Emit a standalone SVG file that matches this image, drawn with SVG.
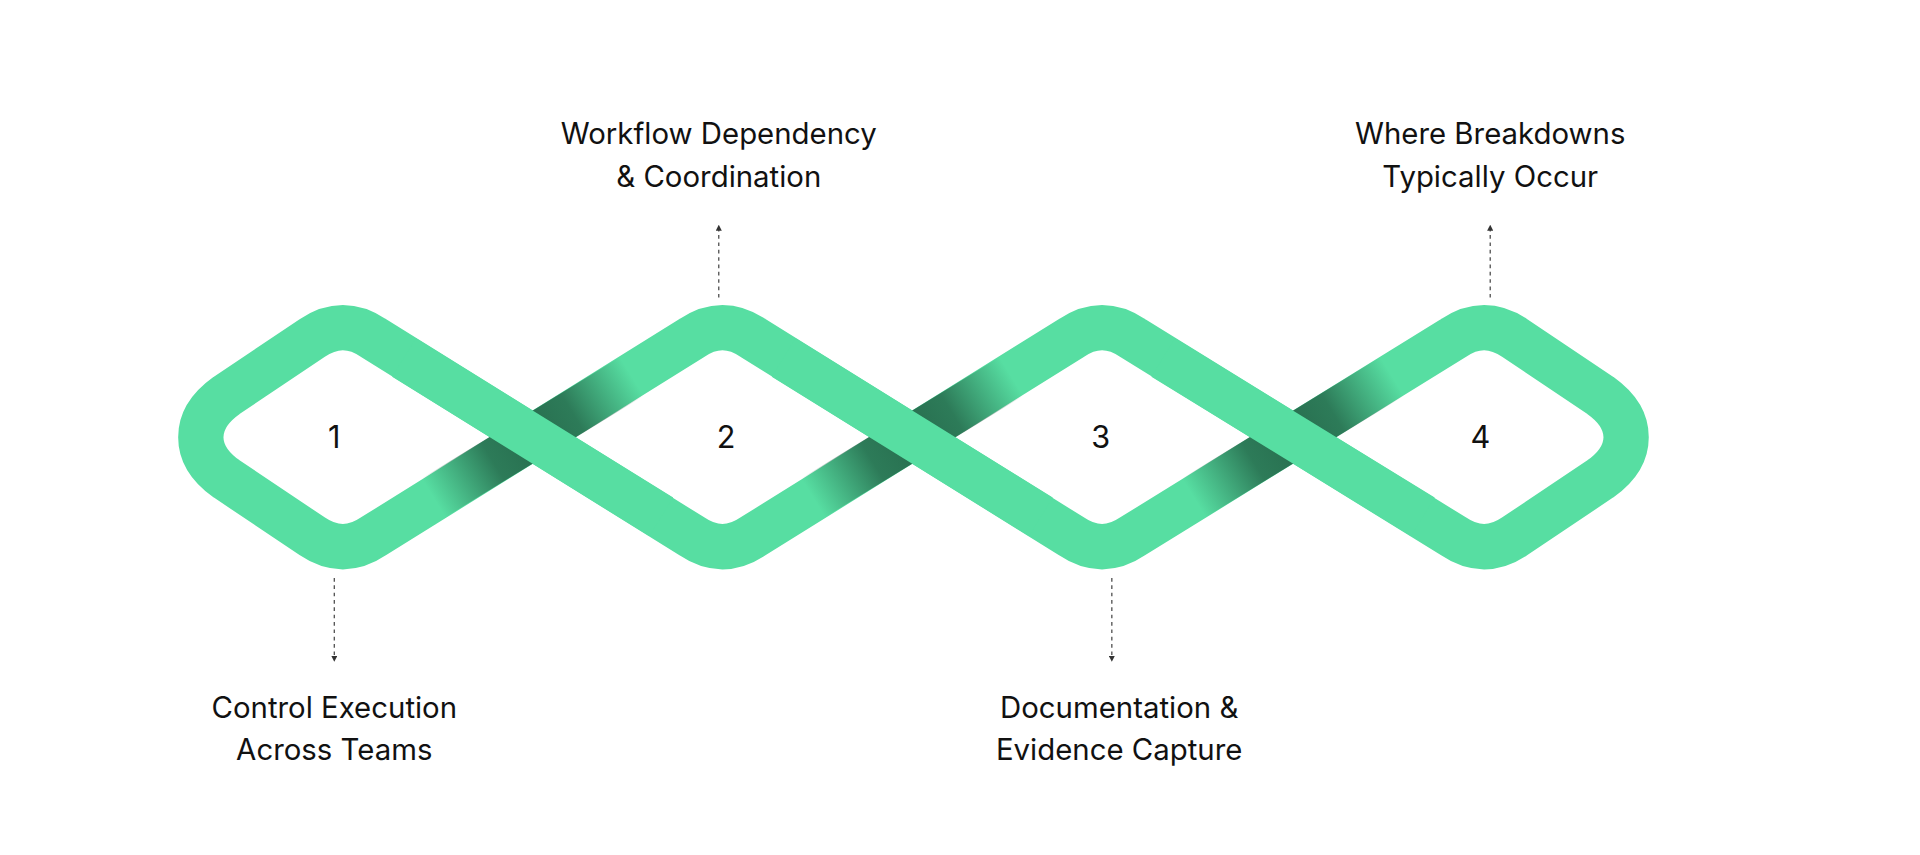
<svg xmlns="http://www.w3.org/2000/svg" width="1920" height="855" viewBox="0 0 1920 855">
<defs>
<style>
.band{fill:none;stroke:#57DEA2;stroke-width:37;stroke-linejoin:round}
.top{fill:none;stroke:#57DEA2;stroke-width:37;stroke-linecap:butt}
.lbl{font-family:Inter,"Liberation Sans",sans-serif;font-size:24px;fill:#111;text-anchor:middle}
.num{font-family:Inter,"Liberation Sans",sans-serif;font-size:25px;fill:#111;text-anchor:middle}
.dash{stroke:#444;stroke-width:1;stroke-dasharray:3 3;fill:none}
</style>
<linearGradient id="sh" x1="0" y1="0" x2="1" y2="0">
<stop offset="0" stop-color="#1f5a40" stop-opacity="0"/>
<stop offset="0.3" stop-color="#1f5a40" stop-opacity="0.75"/>
<stop offset="0.5" stop-color="#1f5a40" stop-opacity="0.85"/>
<stop offset="0.7" stop-color="#1f5a40" stop-opacity="0.75"/>
<stop offset="1" stop-color="#1f5a40" stop-opacity="0"/>
</linearGradient>
<marker id="ar" viewBox="0 0 6 6" refX="3" refY="3" markerWidth="5" markerHeight="5" orient="auto"><path d="M0,0L6,3L0,6z" fill="#333"/></marker>
</defs>
<rect width="1920" height="855" fill="#fff"/>
<g transform="scale(1.22449)">
<g id="band">
<path class="band" d="M164,357 Q164,338 185,323 L255,276 Q280,259 305,276 L565,438 Q590,455 615,438 L875,276 Q900,259 925,276 L1187,438 Q1212,455 1237,438 L1307,391 Q1328,376 1328,357 Q1328,338 1307,323 L1237,276 Q1212,259 1187,276 L925,438 Q900,455 875,438 L615,276 Q590,259 565,276 L305,438 Q280,455 255,438 L185,391 Q164,376 164,357 Z"/>
<g transform="translate(435,357) rotate(-31.5)"><rect x="-95" y="-18.5" width="190" height="37" fill="url(#sh)"/></g>
<g transform="translate(745,357) rotate(-31.5)"><rect x="-95" y="-18.5" width="190" height="37" fill="url(#sh)"/></g>
<g transform="translate(1056,357) rotate(-31.5)"><rect x="-95" y="-18.5" width="190" height="37" fill="url(#sh)"/></g>
<path class="top" d="M330,292 L540,422 M640,292 L850,422 M950,292 L1162,422"/>
</g>
<g id="n1"><text class="num" x="273" y="366">1</text><text class="lbl" x="273" y="586">Control Execution</text><text class="lbl" x="273" y="621">Across Teams</text></g>
<g id="n2"><text class="num" x="593" y="366">2</text><text class="lbl" x="587" y="118">Workflow Dependency</text><text class="lbl" x="587" y="153">&amp; Coordination</text></g>
<g id="n3"><text class="num" x="899" y="366">3</text><text class="lbl" x="914" y="586">Documentation &amp;</text><text class="lbl" x="914" y="621">Evidence Capture</text></g>
<g id="n4"><text class="num" x="1209" y="366">4</text><text class="lbl" x="1217" y="118">Where Breakdowns</text><text class="lbl" x="1217" y="153">Typically Occur</text></g>
<g id="connectors">
<path class="dash" d="M587,243 L587,186" marker-end="url(#ar)"/>
<path class="dash" d="M1217,243 L1217,186" marker-end="url(#ar)"/>
<path class="dash" d="M273,472 L273,538" marker-end="url(#ar)"/>
<path class="dash" d="M908,472 L908,538" marker-end="url(#ar)"/>
</g>
</g>
</svg>
